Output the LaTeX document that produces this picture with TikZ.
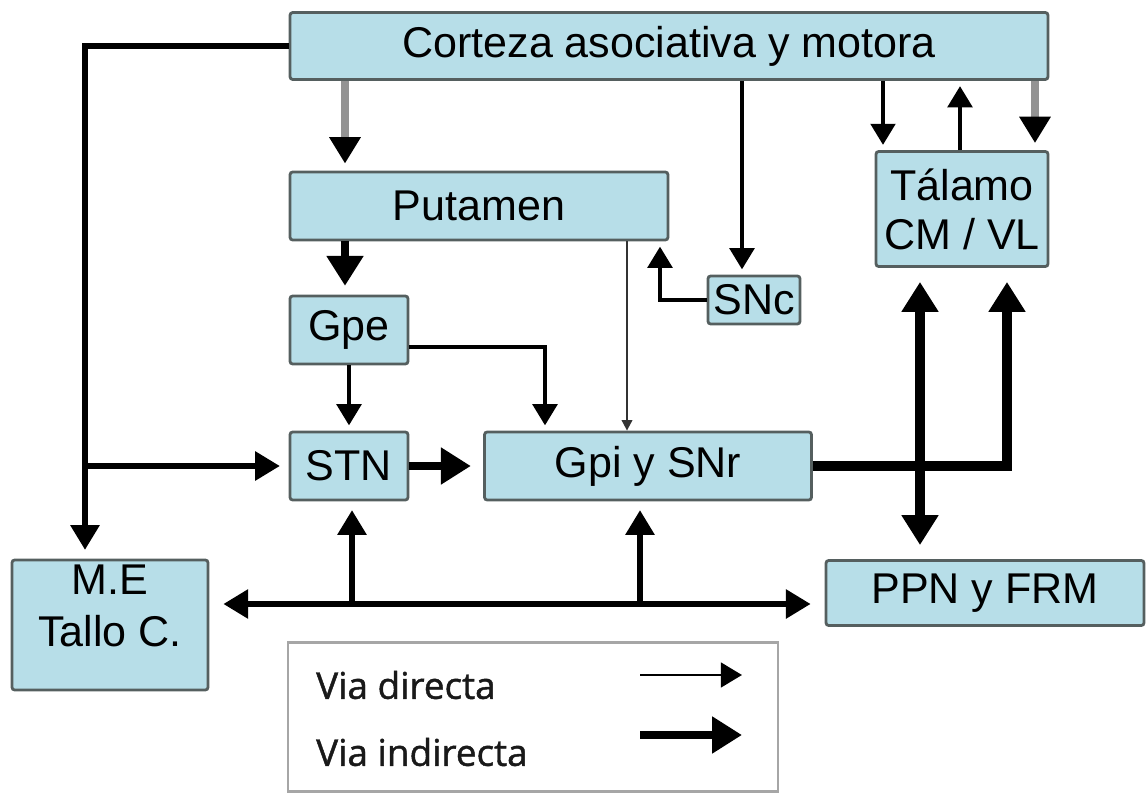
\documentclass[tikz,border=0pt]{standalone}
\usepackage{fontspec}
\setmainfont{Liberation Sans}
\newfontfamily\legendfont[FakeBold=1.2]{Open Sans}
\usetikzlibrary{arrows.meta,calc,positioning}
\definecolor{boxfill}{RGB}{183,222,232}
\definecolor{boxline}{RGB}{85,95,95}
\tikzset{
box/.style={draw=boxline,line width=1.6pt,fill=boxfill,rounded corners=1.5pt,inner sep=0pt,align=center,font=\fontsize{24.5}{28}\selectfont},
arcthin/.style={-{Triangle[length=12pt,width=14pt]},line width=2pt,shorten >=3pt},
arcmid/.style={-{Triangle[length=14pt,width=16pt]},line width=3pt,shorten >=5pt},
arcthick/.style={-{Triangle[length=17pt,width=20pt]},line width=5pt,shorten >=5pt},
arcgray/.style={-{Triangle[length=15pt,width=17pt,color=black]},draw=gray!85,line width=4.5pt,shorten >=4pt},
arcfine/.style={-{Triangle[length=6pt,width=6pt]},draw=gray!40!black,line width=1.1pt}
}

\begin{document}
\begin{tikzpicture}[x=0.02cm,y=-0.02cm]
			\useasboundingbox (0,0) rectangle (1147,794);
			
			%boxes
			\node[box,minimum width=15.16cm,minimum height=1.34cm] (cortex) at (669,46) {Corteza asociativa y motora};
			\node[box,minimum width=7.56cm,minimum height=1.36cm] (putamen) at (479,206) {Putamen};
			\node[box,minimum width=3.44cm,minimum height=2.30cm] (talamo) at (962,209) {Tálamo\\CM / VL};
			\node[box,minimum width=1.84cm,minimum height=0.96cm] (snc) at (754,300) {SNc};
			\node[box,minimum width=2.36cm,minimum height=1.36cm] (gpe) at (349,330) {Gpe};
			\node[box,minimum width=2.36cm,minimum height=1.36cm] (stn) at (349,466) {STN};
			\node[box,minimum width=6.54cm,minimum height=1.36cm] (gpi) at (648,466) {Gpi y SNr};
			\node[box,minimum width=3.92cm,minimum height=2.60cm] (me) at (110,625) {};
			\node[align=center,font=\fontsize{24.5}{30}\selectfont] (metext) at ($(me.center)+(0,-19)$) {M.E\\Tallo C.};
			\node[box,minimum width=6.36cm,minimum height=1.30cm] (ppn) at (985,593) {PPN y FRM};
			
			%cortex outputs
			\coordinate (leftbend) at (85,46);
			\draw[arcmid] (cortex.west) -- (leftbend) -- (leftbend |- me.north);
			\draw[arcmid,shorten >=5pt] (leftbend |- stn.west) -- (stn.west);
			\draw[arcgray] (cortex.south -| 345,0) -- (putamen.north -| 345,0);
			\draw[arcthin] (cortex.south -| 742,0) -- (snc.north -| 742,0);
			\draw[arcthin] (cortex.south -| 883,0) -- (talamo.north -| 883,0);
			\draw[arcthin] (talamo.north -| 960,0) -- (cortex.south -| 960,0);
			\draw[arcgray] (cortex.south -| 1035,0) -- (talamo.north -| 1035,0);
			
			%striatum
			\draw[arcthick] (putamen.south -| 345,0) -- (gpe.north -| 345,0);
			\draw[arcfine] (putamen.south -| 627,0) -- (gpi.north -| 627,0);
			\coordinate (sncbend) at (660,300);
			\draw[arcthin] (snc.west) -- (sncbend) -- (putamen.south -| sncbend);
			
			%gpe and stn
			\draw[arcthin] (gpe.east |- 0,347) -| (gpi.north -| 545,0);
			\draw[arcthin] (gpe) -- (stn);
			\draw[arcthick,shorten >=7pt] (stn.east) -- (gpi.west);
			
			%outputs to thalamus and brainstem
			\draw[arcthick,line width=6pt,shorten >=8pt] (gpi.east) -| (talamo.south -| 1007,0);
			\draw[arcthick,line width=6pt,shorten <=8pt,shorten >=8pt,{Triangle[length=17pt,width=20pt]}-{Triangle[length=17pt,width=20pt]}] (talamo.south -| 920,0) -- (ppn.north -| 920,0);
			\coordinate (bottomleft) at (352,604);
			\coordinate (bottomright) at (640,604);
			\draw[arcmid,shorten <=8pt,shorten >=8pt,{Triangle[length=14pt,width=16pt]}-{Triangle[length=14pt,width=16pt]}] (me.east |- bottomleft) -- (ppn.west |- bottomleft);
			\draw[arcmid] (bottomleft) -- (stn.south -| bottomleft);
			\draw[arcmid] (bottomright) -- (gpi.south -| bottomright);
			
			%legend
			\node[draw=gray!70,line width=1.2pt,fill=white,minimum width=9.80cm,minimum height=2.98cm] (legend) at (533,717) {};
			\node[anchor=west,font=\legendfont\fontsize{21}{24}\selectfont,text=black!90] (direct) at (310,685) {Via directa};
			\node[anchor=west,font=\legendfont\fontsize{21}{24}\selectfont,text=black!90] (indirect) at (310,752) {Via indirecta};
			\coordinate (d1) at (640,675);
			\coordinate (d2) at (742,675);
			\coordinate (i1) at (640,735);
			\coordinate (i2) at (742,735);
			\draw[arcthin,shorten >=0pt,line width=1.6pt] (d1) -- (d2);
			\draw[arcthick,shorten >=0pt] (i1) -- (i2);
			
\end{tikzpicture}
\end{document}
